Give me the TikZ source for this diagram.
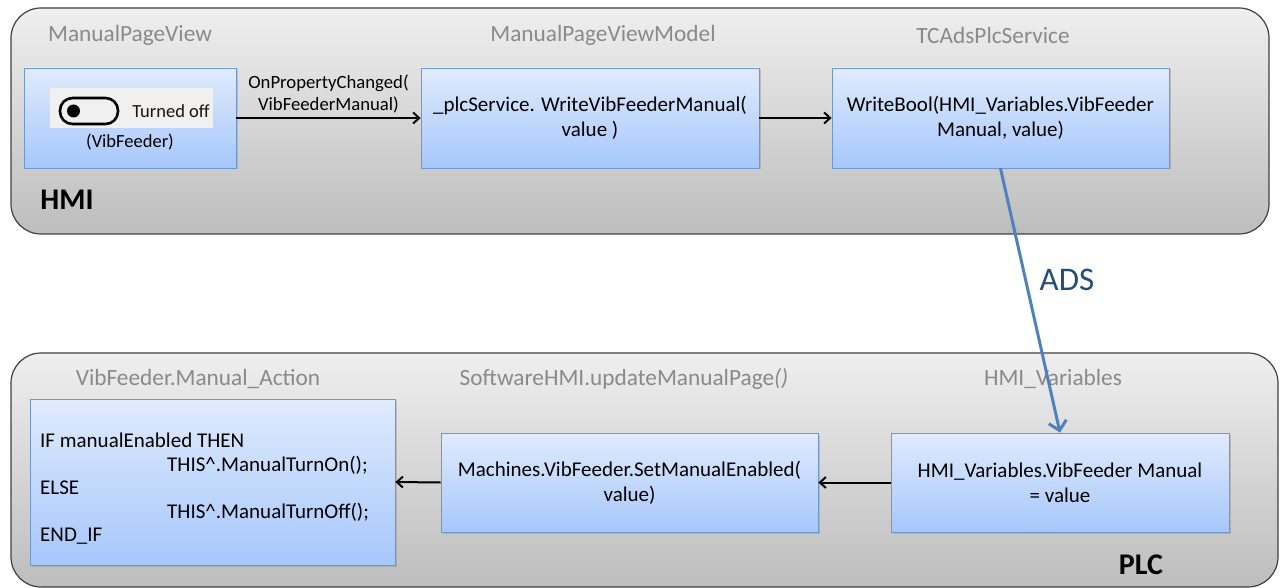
\documentclass[tikz,border=0pt]{standalone}
\usepackage{fontspec}
\setmainfont{Carlito}
\usetikzlibrary{arrows.meta,shadows}
\definecolor{boxtop}{HTML}{E0EBFD}
\definecolor{boxbot}{HTML}{A6C7FB}
\definecolor{boxline}{HTML}{6E98D0}
\definecolor{grptop}{HTML}{EFEFEF}
\definecolor{grpbot}{HTML}{BDBDBD}
\definecolor{grpline}{HTML}{404040}
\definecolor{titlegray}{HTML}{8A8A8A}
\definecolor{adsblue}{HTML}{4F81BD}
\definecolor{adstext}{HTML}{1F4E79}
\tikzset{
  grp/.style={draw=grpline, line width=1.2pt, rounded corners=30pt, top color=grptop, bottom color=grpbot},
  fbox/.style={draw=boxline, line width=0.8pt, top color=boxtop, bottom color=boxbot, align=center,
    font=\fontsize{21}{25}\selectfont, inner sep=0pt,
    drop shadow={shadow xshift=1.5pt, shadow yshift=-1.5pt, opacity=0.35}},
  grptitle/.style={text=titlegray, font=\fontsize{23.3}{27}\selectfont, inner sep=0pt},
  grpname/.style={font=\fontsize{30}{34}\selectfont\bfseries, inner sep=0pt},
  flow/.style={draw=black, line width=2pt, -{Straight Barb[length=6pt,width=11pt]}},
}
\begin{document}
\begin{tikzpicture}[x=1pt,y=-1pt]
\useasboundingbox (0,0) rectangle (1283,588);
% containers
\shade[grp] (11,8) rectangle (1269,234);
\shade[grp] (11,353) rectangle (1278,587);
% titles
\node[grptitle] (t1) at (130,35) {ManualPageView};
\node[grptitle] (t2) at (603,35) {ManualPageViewModel};
\node[grptitle] (t3) at (993,35) {TCAdsPlcService};
\node[grptitle] (t4) at (198,379) {VibFeeder.Manual\_Action};
\node[grptitle] (t5) at (624,379) {SoftwareHMI.updateManualPage\textit{()}};
\node[grptitle] (t6) at (1053,379) {HMI\_Variables};
\node[grpname] (hmi) at (67,200) {HMI};
\node[grpname] (plc) at (1141,565) {PLC};
% boxes
\node[fbox, minimum width=212pt, minimum height=100pt] (b1) at (130,118) {};
\node[fbox, minimum width=338pt, minimum height=100pt] (b2) at (590,118) {\_plcService. WriteVibFeederManual(\\value )};
\node[fbox, minimum width=337pt, minimum height=100pt] (b3) at (1000.5,118) {WriteBool(HMI\_Variables.VibFeeder\\Manual, value)};
\node[fbox, minimum width=365pt, minimum height=166pt] (b4) at (212.5,482) {};
\node[fbox, minimum width=377pt, minimum height=99pt] (b5) at (629.5,482.5) {Machines.VibFeeder.SetManualEnabled(\\value)};
\node[fbox, minimum width=338pt, minimum height=99pt] (b6) at (1060,482.5) {HMI\_Variables.VibFeeder Manual\\= value};
% toggle icon in b1
\fill[black!6] (50,88) rectangle (213,128);
\draw[line width=2.6pt, rounded corners=12.5pt] (60,98) rectangle (118,124);
\fill (73.5,111) circle (6.5pt);
\node[font=\fontsize{18.5}{22}\selectfont, text=black!85!brown, inner sep=0pt] (toff) at (171,111) {Turned off};
\node[font=\fontsize{18.5}{22}\selectfont, inner sep=0pt] (vf) at (130,142) {(VibFeeder)};
% code in b4
\node[font=\fontsize{21}{23.5}\selectfont, align=left, anchor=north west, inner sep=0pt] (code) at (40,433)
 {IF manualEnabled THEN\\
  \hspace*{127pt}THIS\textasciicircum.ManualTurnOn();\\
  ELSE\\
  \hspace*{127pt}THIS\textasciicircum.ManualTurnOff();\\
  END\_IF};
% connectors
\draw[flow] (b1.east) -- node[above=4pt, align=center, font=\fontsize{18.7}{22}\selectfont, inner sep=0pt] {OnPropertyChanged(\\VibFeederManual)} (b2.west);
\draw[flow] (b2.east) -- (b3.west);
\draw[flow] (b6.west) -- (b5.east);
\draw[flow] (b5.west) -- (b4.east);
\draw[draw=adsblue, line width=3pt, -{Straight Barb[length=9pt,width=18pt]}] (b3.south) -- (b6.north);
\node[text=adstext, font=\fontsize{33}{38}\selectfont, inner sep=0pt] (ads) at (1067,280) {ADS};
\end{tikzpicture}
\end{document}
